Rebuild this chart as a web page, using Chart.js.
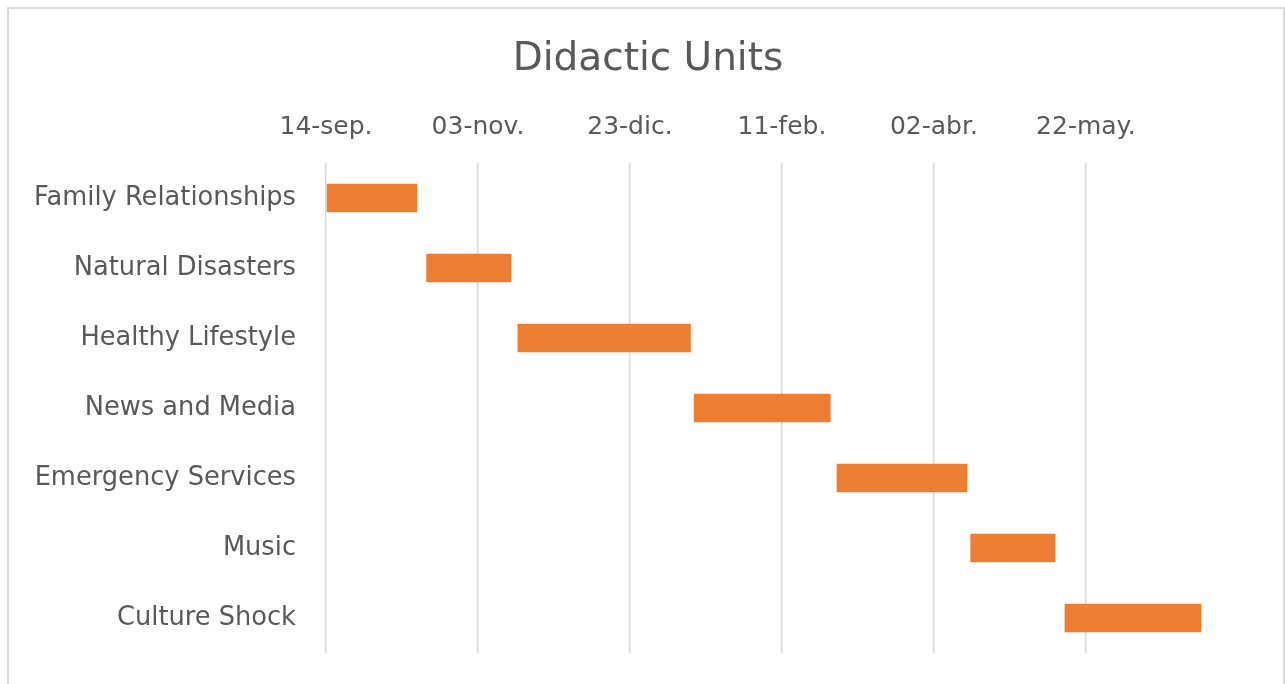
<!DOCTYPE html>
<html>
<head>
<meta charset="utf-8">
<script src="https://cdn.jsdelivr.net/npm/chart.js@4"></script>
<style>
  body { margin: 0; background: #fff; }
  #frame {
    position: absolute; left: 7px; top: 7px;
    width: 1278px; height: 700px;
    border: 2px solid #d9d9d9; box-sizing: border-box;
  }
  #ganttChart { position: absolute; left: 0; top: 0; }
</style>
</head>
<body>
<div id="frame"></div>
<canvas id="ganttChart" width="1285" height="684"></canvas>
<script>
// Units of the school year
const units = ['Family Relationships', 'Natural Disasters', 'Healthy Lifestyle', 'News and Media',
    'Emergency Services', 'Music', 'Culture Shock'];
// start date of each unit and how many days it lasts
const startDates = ['2020-09-14', '2020-10-17', '2020-11-16', '2021-01-13', '2021-03-01', '2021-04-14', '2021-05-15'];
const durations = [30, 28, 57, 45, 43, 28, 45];
// axis labels, one every 50 days from the first start date
const tickLabels = ['14-sep.', '03-nov.', '23-dic.', '11-feb.', '02-abr.', '22-may.'];
const tickStep = 50;
const axisEnd = 315.5;

const DAY = 86400000;
const day0 = Date.parse(startDates[0]) / DAY;

// floating bars: [start, end] in days from the first unit
const bars = startDates.map((d, i) => {
    const start = Date.parse(d) / DAY - day0;
    return [start, start + durations[i]];
});

const textColor = '#595959';
const fontFamily = '"DejaVu Sans", sans-serif';

new Chart(document.getElementById('ganttChart'), {
    type: 'bar',
    data: {
        labels: units,
        datasets: [{
            data: bars,
            backgroundColor: '#ED7D31',
            borderWidth: 0,
            barPercentage: 0.41,
            categoryPercentage: 1
        }]
    },
    options: {
        indexAxis: 'y',
        responsive: false,
        animation: false,
        // left/right padding also centres the title where Excel put it
        layout: { padding: { top: 0, left: 11, right: 0, bottom: 31 } },
        plugins: {
            legend: { display: false },
            tooltip: { enabled: false },
            title: {
                display: true,
                text: 'Didactic Units',
                color: textColor,
                font: { family: fontFamily, size: 39, weight: 'normal' },
                padding: { top: 36.6, bottom: 0 }
            }
        },
        scales: {
            x: {
                type: 'linear',
                position: 'top',
                min: 0,
                max: axisEnd,
                afterBuildTicks: scale => {
                    scale.ticks = tickLabels.map((_, i) => ({ value: i * tickStep }));
                },
                afterFit: scale => { scale.height = 79.6; },
                ticks: {
                    color: textColor,
                    font: { family: fontFamily, size: 25 },
                    padding: 21,
                    maxRotation: 0,
                    callback: value => tickLabels[Math.round(value / tickStep)]
                },
                grid: { color: '#d9d9d9', lineWidth: 1.5, drawTicks: false },
                border: { display: false }
            },
            y: {
                afterFit: scale => {
                    scale.width = 315;
                    scale.paddingTop = 0;
                    scale.paddingBottom = 0;
                },
                ticks: {
                    color: textColor,
                    font: { family: fontFamily, size: 25.7 },
                    padding: 30
                },
                grid: { display: false, drawTicks: false },
                border: { display: false }
            }
        }
    }
});
</script>
</body>
</html>
